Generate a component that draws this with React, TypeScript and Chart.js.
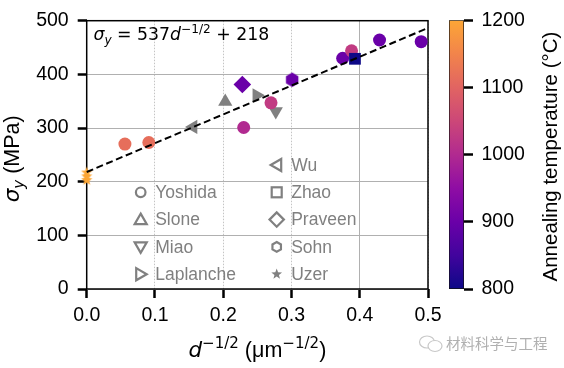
import React, { useEffect, useRef } from 'react';
import { Chart, registerables } from 'chart.js';
Chart.register(...registerables);

// ---------- data ----------
const fitX = [0, 0.5];
const fitY = [218, 486.5];

const yoshidaX = [0.056, 0.091, 0.23, 0.27, 0.375, 0.388, 0.429, 0.49];
const yoshidaY = [270, 273, 301, 347, 430, 444, 464, 461];
const yoshidaT = [1115, 1115, 1000, 1030, 900, 1030, 900, 900];

const zhaoX = [0.393];
const zhaoY = [429];
const zhaoT = [800];

const praveenX = [0.228];
const praveenY = [381];
const praveenT = [900];

const sohnX = [0.301];
const sohnY = [390];
const sohnT = [900];

const uzerX = [0, 0, 0];
const uzerY = [203, 210, 217];
const uzerT = [1200, 1200, 1200];

const sloneX = [0.203];
const sloneY = [349];
const miaoX = [0.277];
const miaoY = [331];
const laplancheX = [0.249];
const laplancheY = [361];
const wuX = [0.156];
const wuY = [302];

const xTicks = [0, 0.1, 0.2, 0.3, 0.4, 0.5];
const yTicks = [0, 100, 200, 300, 400, 500];
const cbTicks = [800, 900, 1000, 1100, 1200];

const legendLeftCol = ['Yoshida', 'Slone', 'Miao', 'Laplanche'];
const legendRightCol = ['Wu', 'Zhao', 'Praveen', 'Sohn', 'Uzer'];

const equationParts = ['σ', 'y', ' = 537', 'd', '−1/2', ' + 218'];
const yTitleParts = ['σ', 'y', ' (MPa)'];
const xTitleParts = ['d', '−1/2', ' (μm', '−1/2', ')'];
const cbTitle = 'Annealing temperature (°C)';
const watermark = '材料科学与工程';

// ---------- colour map (plasma, truncated) ----------
const plasma = ['#0d0887', '#41049d', '#6a00a8', '#8f0da4', '#b12a90', '#cc4778', '#e16462', '#f2844b', '#fca636'];
function hexToRgb(h: string) {
  return [parseInt(h.slice(1, 3), 16), parseInt(h.slice(3, 5), 16), parseInt(h.slice(5, 7), 16)];
}
function cmap(f: number) {
  const p = Math.max(0, Math.min(1, f)) * (plasma.length - 1);
  const i = Math.min(plasma.length - 2, Math.floor(p));
  const r = p - i;
  const a = hexToRgb(plasma[i]);
  const b = hexToRgb(plasma[i + 1]);
  const c = a.map((v, k) => Math.round(v + (b[k] - v) * r));
  return `rgb(${c[0]},${c[1]},${c[2]})`;
}
const tMin = cbTicks[0];
const tMax = cbTicks[cbTicks.length - 1];
const tempColor = (t: number) => cmap((t - tMin) / (tMax - tMin));

const GRAY = '#808080';
const SANS = '"Liberation Sans", Arial, sans-serif';
const MATH = '"DejaVu Sans", sans-serif';

// ---------- helpers ----------
type Seg = { t: string; font: string; dy?: number };
function drawRich(ctx: CanvasRenderingContext2D, segs: Seg[], x: number, y: number, align: 'left' | 'center', rot = 0, color = '#000') {
  ctx.save();
  ctx.translate(x, y);
  ctx.rotate(rot);
  ctx.fillStyle = color;
  ctx.textBaseline = 'alphabetic';
  ctx.textAlign = 'left';
  const widths = segs.map((s) => {
    ctx.font = s.font;
    return ctx.measureText(s.t).width;
  });
  const total = widths.reduce((a, b) => a + b, 0);
  let cx = align === 'center' ? -total / 2 : 0;
  segs.forEach((s, i) => {
    ctx.font = s.font;
    ctx.fillText(s.t, cx, s.dy || 0);
    cx += widths[i];
  });
  ctx.restore();
}

function hexPath(ctx: CanvasRenderingContext2D, cx: number, cy: number, r: number) {
  ctx.beginPath();
  for (let k = 0; k < 6; k++) {
    const a = -Math.PI / 2 + (k * Math.PI) / 3;
    const px = cx + r * Math.cos(a);
    const py = cy + r * Math.sin(a);
    if (k === 0) ctx.moveTo(px, py);
    else ctx.lineTo(px, py);
  }
  ctx.closePath();
}
function starPath(ctx: CanvasRenderingContext2D, cx: number, cy: number, r: number) {
  ctx.beginPath();
  for (let k = 0; k < 10; k++) {
    const a = -Math.PI / 2 + (k * Math.PI) / 5;
    const rr = k % 2 === 0 ? r : r * 0.42;
    const px = cx + rr * Math.cos(a);
    const py = cy + rr * Math.sin(a);
    if (k === 0) ctx.moveTo(px, py);
    else ctx.lineTo(px, py);
  }
  ctx.closePath();
}
function triPath(ctx: CanvasRenderingContext2D, cx: number, cy: number, r: number, rotDeg: number) {
  ctx.beginPath();
  let a = (rotDeg * Math.PI) / 180;
  for (let k = 0; k < 3; k++) {
    const px = cx + Math.sin(a) * r;
    const py = cy - Math.cos(a) * r;
    if (k === 0) ctx.moveTo(px, py);
    else ctx.lineTo(px, py);
    a += (2 * Math.PI) / 3;
  }
  ctx.closePath();
}

function makeImg(size: number, draw: (c: CanvasRenderingContext2D, m: number) => void) {
  const c = document.createElement('canvas');
  c.width = size;
  c.height = size;
  const x = c.getContext('2d')!;
  draw(x, size / 2);
  return c;
}

function drawLegendMarker(ctx: CanvasRenderingContext2D, name: string, x: number, y: number) {
  ctx.save();
  ctx.strokeStyle = GRAY;
  ctx.fillStyle = GRAY;
  ctx.lineWidth = 2.2;
  ctx.lineJoin = 'miter';
  switch (name) {
    case 'Yoshida':
      ctx.beginPath();
      ctx.arc(x, y, 4.8, 0, Math.PI * 2);
      ctx.stroke();
      break;
    case 'Slone':
      triPath(ctx, x, y + 1, 7, 0);
      ctx.stroke();
      break;
    case 'Miao':
      triPath(ctx, x, y - 1, 7, 180);
      ctx.stroke();
      break;
    case 'Laplanche':
      triPath(ctx, x - 1, y, 7, 90);
      ctx.stroke();
      break;
    case 'Wu':
      triPath(ctx, x + 1, y, 7, 270);
      ctx.stroke();
      break;
    case 'Zhao':
      ctx.strokeRect(x - 5, y - 5, 10, 10);
      break;
    case 'Praveen':
      ctx.beginPath();
      ctx.moveTo(x - 7.2, y);
      ctx.lineTo(x, y - 7.2);
      ctx.lineTo(x + 7.2, y);
      ctx.lineTo(x, y + 7.2);
      ctx.closePath();
      ctx.stroke();
      break;
    case 'Sohn':
      hexPath(ctx, x, y, 4.9);
      ctx.stroke();
      break;
    case 'Uzer':
      starPath(ctx, x, y, 5.6);
      ctx.fill();
      break;
  }
  ctx.restore();
}

const pts = (xs: number[], ys: number[]) => xs.map((x, i) => ({ x, y: ys[i] }));

export default function App() {
  const mainRef = useRef<HTMLCanvasElement>(null);
  const cbRef = useRef<HTMLCanvasElement>(null);

  useEffect(() => {
    Chart.defaults.font.family = SANS;
    Chart.defaults.color = '#000';

    const hexImg = makeImg(18, (c, m) => {
      c.fillStyle = tempColor(sohnT[0]);
      hexPath(c, m, m, 7.2);
      c.fill();
    });
    const starImg = makeImg(16, (c, m) => {
      c.fillStyle = tempColor(uzerT[0]);
      starPath(c, m, m, 6);
      c.fill();
    });

    const framePlugin = {
      id: 'frame',
      beforeDatasetsDraw(chart: any) {
        const { ctx, chartArea: a } = chart;
        ctx.save();
        ctx.strokeStyle = '#000';
        ctx.lineWidth = 1.5;
        ctx.strokeRect(a.left, a.top, a.right - a.left, a.bottom - a.top);
        ctx.restore();
      },
    };

    const decorPlugin = {
      id: 'decor',
      afterDatasetsDraw(chart: any) {
        const ctx = chart.ctx as CanvasRenderingContext2D;
        const rowH = 27.3;
        const leftMx = 140.7;
        const rightMx = 276.7;
        const topRow = 165;
        ctx.save();
        legendRightCol.forEach((n, i) => {
          const y = topRow + i * rowH;
          drawLegendMarker(ctx, n, rightMx, y);
          ctx.fillStyle = GRAY;
          ctx.font = `17.5px ${SANS}`;
          ctx.textBaseline = 'middle';
          ctx.fillText(n, rightMx + 14.5, y + 1);
        });
        legendLeftCol.forEach((n, i) => {
          const y = topRow + (i + 1) * rowH;
          drawLegendMarker(ctx, n, leftMx, y);
          ctx.fillStyle = GRAY;
          ctx.font = `17.5px ${SANS}`;
          ctx.textBaseline = 'middle';
          ctx.fillText(n, leftMx + 14.5, y + 1);
        });
        ctx.restore();
      },
      afterDraw(chart: any) {
        const ctx = chart.ctx as CanvasRenderingContext2D;
        const a = chart.chartArea;
        const eq = 17.3;
        const it = (s: number) => `italic ${s}px ${MATH}`;
        const rg = (s: number) => `${s}px ${MATH}`;
        drawRich(
          ctx,
          [
            { t: equationParts[0], font: it(eq) },
            { t: equationParts[1], font: it(eq * 0.7), dy: 3.5 },
            { t: equationParts[2], font: rg(eq) },
            { t: equationParts[3], font: it(eq) },
            { t: equationParts[4], font: rg(eq * 0.7), dy: -7.5 },
            { t: equationParts[5], font: rg(eq) },
          ],
          a.left + 6.8,
          40,
          'left'
        );
        const lt = 21.5;
        drawRich(
          ctx,
          [
            { t: yTitleParts[0], font: it(lt) },
            { t: yTitleParts[1], font: it(lt * 0.7), dy: 4.5 },
            { t: yTitleParts[2], font: `${lt}px ${SANS}` },
          ],
          19,
          (a.top + a.bottom) / 2 + 4,
          'center',
          -Math.PI / 2
        );
        drawRich(
          ctx,
          [
            { t: xTitleParts[0], font: it(lt) },
            { t: xTitleParts[1], font: rg(lt * 0.7), dy: -9 },
            { t: xTitleParts[2], font: `${lt}px ${SANS}` },
            { t: xTitleParts[3], font: rg(lt * 0.7), dy: -9 },
            { t: xTitleParts[4], font: `${lt}px ${SANS}` },
          ],
          (a.left + a.right) / 2,
          356.5,
          'center'
        );
      },
    };

    const main = new Chart(mainRef.current!, {
      type: 'scatter',
      data: {
        datasets: [
          {
            type: 'line',
            label: 'fit',
            data: pts(fitX, fitY),
            borderColor: '#000',
            borderWidth: 2,
            borderDash: [7, 3.6],
            pointRadius: 0,
            fill: false,
            clip: false,
          } as any,
          {
            label: 'Zhao',
            data: pts(zhaoX, zhaoY),
            pointStyle: 'rect',
            pointRadius: 8.3,
            backgroundColor: zhaoT.map(tempColor),
            borderWidth: 0,
            clip: false,
          },
          {
            label: 'Yoshida',
            data: pts(yoshidaX, yoshidaY),
            pointStyle: 'circle',
            pointRadius: 6.5,
            backgroundColor: yoshidaT.map(tempColor),
            borderWidth: 0,
            clip: false,
          },
          {
            label: 'Praveen',
            data: pts(praveenX, praveenY),
            pointStyle: 'rectRot',
            pointRadius: 8.8,
            backgroundColor: praveenT.map(tempColor),
            borderWidth: 0,
            clip: false,
          },
          {
            label: 'Sohn',
            data: pts(sohnX, sohnY),
            pointStyle: hexImg as any,
            pointRadius: 7,
            backgroundColor: sohnT.map(tempColor),
            borderWidth: 0,
            clip: false,
          },
          {
            label: 'Uzer',
            data: pts(uzerX, uzerY),
            pointStyle: starImg as any,
            pointRadius: 6,
            backgroundColor: uzerT.map(tempColor),
            borderWidth: 0,
            clip: false,
          },
          {
            label: 'Slone',
            data: pts(sloneX, sloneY),
            pointStyle: 'triangle',
            pointRadius: 8.2,
            backgroundColor: GRAY,
            borderWidth: 0,
            clip: false,
          },
          {
            label: 'Miao',
            data: pts(miaoX, miaoY),
            pointStyle: 'triangle',
            rotation: 180,
            pointRadius: 8.2,
            backgroundColor: GRAY,
            borderWidth: 0,
            clip: false,
          },
          {
            label: 'Laplanche',
            data: pts(laplancheX, laplancheY),
            pointStyle: 'triangle',
            rotation: 90,
            pointRadius: 8.2,
            backgroundColor: GRAY,
            borderWidth: 0,
            clip: false,
          },
          {
            label: 'Wu',
            data: pts(wuX, wuY),
            pointStyle: 'triangle',
            rotation: 270,
            pointRadius: 8.2,
            backgroundColor: GRAY,
            borderWidth: 0,
            clip: false,
          },
        ] as any,
      },
      options: {
        responsive: false,
        animation: false,
        devicePixelRatio: 1,
        events: [],
        layout: { padding: { left: 0, top: 14, right: 136, bottom: 0 } },
        plugins: { legend: { display: false }, tooltip: { enabled: false } },
        scales: {
          x: {
            type: 'linear',
            position: 'bottom',
            min: xTicks[0],
            max: xTicks[xTicks.length - 1],
            afterFit: (s: any) => {
              s.height = 79;
            },
            afterBuildTicks: (s: any) => {
              s.ticks = xTicks.map((v) => ({ value: v }));
            },
            ticks: {
              callback: (v: any) => Number(v).toFixed(1),
              font: { size: 19.5, family: SANS },
              color: '#000',
              padding: 6,
              maxRotation: 0,
              autoSkip: false,
            },
            grid: {
              color: (c: any) => (c.tick && Math.abs(c.tick.value - 0.4) < 1e-6 ? '#b0b0b0' : '#c4c4c4'),
              lineWidth: 1,
              tickColor: '#000',
              tickWidth: 2.5,
              tickLength: 9,
            },
            border: {
              display: false,
              dash: (c: any) => (c.tick && Math.abs(c.tick.value - 0.4) < 1e-6 ? [] : [1.5, 1.5]),
            },
          },
          y: {
            type: 'linear',
            position: 'left',
            min: yTicks[0],
            max: yTicks[yTicks.length - 1],
            afterFit: (s: any) => {
              s.width = 86.7;
            },
            afterBuildTicks: (s: any) => {
              s.ticks = yTicks.map((v) => ({ value: v }));
            },
            ticks: {
              callback: (v: any) => String(v),
              font: { size: 19.5, family: SANS },
              color: '#000',
              padding: 9,
            },
            grid: {
              color: '#b0b0b0',
              lineWidth: 1,
              tickColor: '#000',
              tickWidth: 2.5,
              tickLength: 9,
            },
            border: { display: false },
          },
        },
      } as any,
      plugins: [framePlugin, decorPlugin],
    });

    const cbTitlePlugin = {
      id: 'cbTitle',
      afterDraw(chart: any) {
        const ctx = chart.ctx as CanvasRenderingContext2D;
        const a = chart.chartArea;
        drawRich(ctx, [{ t: cbTitle, font: `20.5px ${SANS}` }], 107.5, (a.top + a.bottom) / 2 + 2, 'center', -Math.PI / 2);
      },
    };

    const cb = new Chart(cbRef.current!, {
      type: 'bar',
      data: {
        labels: ['T'],
        datasets: [
          {
            data: [[tMin, tMax]] as any,
            backgroundColor: (c: any) => {
              const area = c.chart.chartArea;
              if (!area) return '#888';
              const g = c.chart.ctx.createLinearGradient(0, area.bottom, 0, area.top);
              plasma.forEach((col, i) => g.addColorStop(i / (plasma.length - 1), col));
              return g;
            },
            borderColor: '#111',
            borderWidth: 1,
            borderSkipped: false,
            barPercentage: 1,
            categoryPercentage: 1,
          } as any,
        ],
      },
      options: {
        responsive: false,
        animation: false,
        devicePixelRatio: 1,
        events: [],
        layout: { padding: { left: 0, top: 14, right: 0, bottom: 79 } },
        plugins: { legend: { display: false }, tooltip: { enabled: false } },
        scales: {
          x: { display: false },
          y: {
            type: 'linear',
            position: 'right',
            min: tMin,
            max: tMax,
            afterFit: (s: any) => {
              s.width = 100;
            },
            afterBuildTicks: (s: any) => {
              s.ticks = cbTicks.map((v) => ({ value: v }));
            },
            ticks: {
              callback: (v: any) => String(v),
              font: { size: 19.5, family: SANS },
              color: '#000',
              padding: 8.5,
            },
            grid: {
              drawOnChartArea: false,
              tickColor: '#000',
              tickWidth: 2.5,
              tickLength: 9,
            },
            border: { display: false },
          },
        },
      } as any,
      plugins: [cbTitlePlugin],
    });

    return () => {
      main.destroy();
      cb.destroy();
    };
  }, []);

  return (
    <div style={{ position: 'fixed', left: 0, top: 0, width: 564, height: 368, background: '#fff', overflow: 'hidden' }}>
      <canvas ref={mainRef} width={564} height={368} style={{ position: 'absolute', left: 0, top: 0, width: 564, height: 368 }} />
      <canvas ref={cbRef} width={115} height={368} style={{ position: 'absolute', left: 449, top: 0, width: 115, height: 368 }} />
      <svg width={26} height={20} style={{ position: 'absolute', left: 418, top: 334 }}>
        <ellipse cx={9} cy={8} rx={7.5} ry={6} fill="none" stroke="#c8c8c8" strokeWidth={1.2} />
        <ellipse cx={17} cy={12} rx={7} ry={5.5} fill="#fff" stroke="#c8c8c8" strokeWidth={1.2} />
      </svg>
      <div
        style={{
          position: 'absolute',
          left: 446,
          top: 333,
          fontFamily: '"Noto Sans CJK SC", sans-serif',
          fontSize: 14.5,
          color: '#b0b0b0',
          whiteSpace: 'nowrap',
          lineHeight: '20px',
        }}
      >
        {watermark}
      </div>
    </div>
  );
}
